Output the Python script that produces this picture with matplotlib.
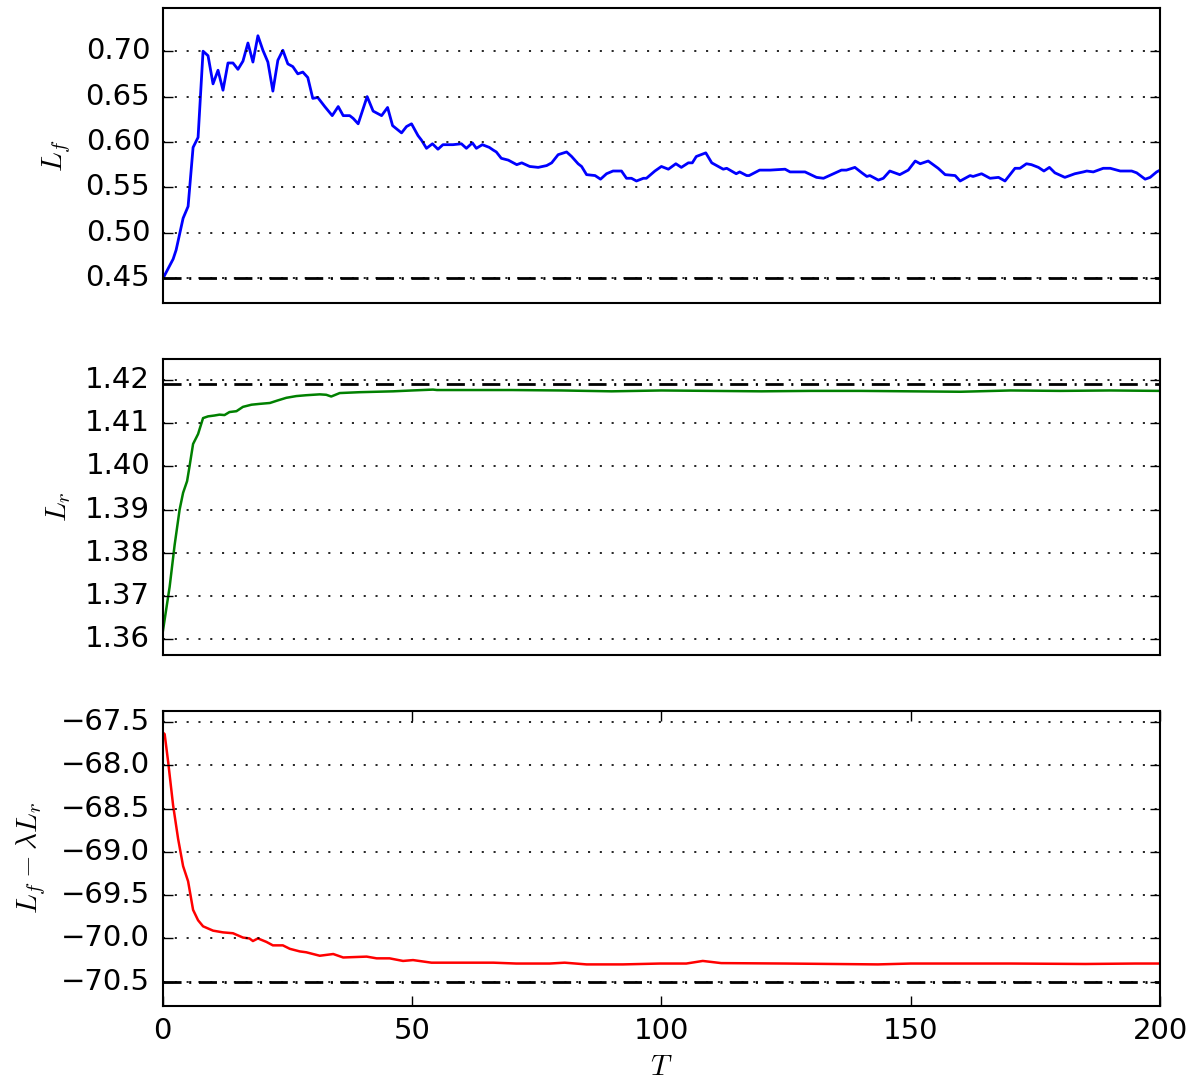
import matplotlib
matplotlib.use('Agg')
import matplotlib.pyplot as plt
from matplotlib.ticker import FuncFormatter

plt.style.use('classic')

# L_f curve (blue)
t_f = [0, 2.1, 2.7, 4.1, 5.1, 6.1, 7.1, 8.1, 9.1, 10.1, 11.1, 12.1, 13.1, 14.1, 15.1, 16.1,
       17.1, 18.1, 19.1, 20.1, 21.1, 22.1, 23.1, 24.1, 25.1, 26.1, 27.1, 28.1, 29.1, 30.1,
       31.1, 32.5, 34.0, 35.2, 36.2, 37.5, 38.2, 39.2, 41.0, 42.2, 43.9, 45.1, 46.1, 47.9,
       48.9, 49.9, 51.2, 51.9, 52.9, 54.1, 55.2, 56.2, 58.2, 59.9, 60.9, 62.1, 62.9, 64.1,
       65.5, 66.3, 66.9, 67.9, 69.3, 71.0, 72.0, 73.6, 75.3, 77.0, 78.0, 79.3, 81.0, 82.0,
       83.3, 84.0, 85.0, 86.7, 87.8, 89.0, 90.3, 92.0, 93.0, 94.0, 95.0, 96.4, 97.0, 98.7,
       100.0, 101.4, 102.9, 104.0, 105.4, 106.2, 107.0, 108.9, 110.1, 111.1, 112.4, 113.1,
       115.0, 115.7, 117.1, 117.6, 119.7, 121.8, 124.8, 125.8, 128.8, 131.1, 132.5, 134.5,
       136.1, 137.1, 138.8, 140.2, 141.2, 141.8, 143.5, 144.5, 145.8, 147.8, 149.5, 150.9,
       151.9, 153.5, 155.5, 156.9, 158.9, 159.9, 161.9, 162.5, 164.2, 165.9, 167.6, 168.9,
       170.9, 171.9, 173.2, 174.2, 175.6, 176.7, 177.8, 178.9, 180.9, 182.9, 184.6, 185.3,
       186.6, 188.6, 190.0, 192.0, 194.3, 195.3, 197.0, 198.0, 199.3, 200]
l_f = [0.449, 0.471, 0.481, 0.516, 0.529, 0.594, 0.605, 0.700, 0.695, 0.664, 0.679, 0.657,
       0.687, 0.687, 0.680, 0.689, 0.709, 0.688, 0.717, 0.701, 0.688, 0.656, 0.690, 0.701,
       0.686, 0.683, 0.675, 0.677, 0.671, 0.648, 0.649, 0.639, 0.629, 0.639, 0.629, 0.629,
       0.626, 0.620, 0.650, 0.634, 0.629, 0.638, 0.618, 0.610, 0.617, 0.620, 0.607, 0.602,
       0.593, 0.598, 0.592, 0.597, 0.597, 0.598, 0.593, 0.599, 0.593, 0.597, 0.594, 0.591,
       0.589, 0.582, 0.580, 0.575, 0.577, 0.573, 0.572, 0.574, 0.577, 0.586, 0.589, 0.584,
       0.576, 0.573, 0.564, 0.563, 0.559, 0.565, 0.568, 0.568, 0.560, 0.560, 0.557, 0.560,
       0.560, 0.568, 0.573, 0.570, 0.576, 0.572, 0.577, 0.577, 0.584, 0.588, 0.577, 0.574,
       0.570, 0.571, 0.565, 0.567, 0.563, 0.563, 0.569, 0.569, 0.570, 0.567, 0.567, 0.561,
       0.560, 0.565, 0.569, 0.569, 0.572, 0.566, 0.562, 0.563, 0.558, 0.560, 0.568, 0.564,
       0.569, 0.579, 0.576, 0.579, 0.571, 0.564, 0.563, 0.557, 0.563, 0.562, 0.565, 0.560,
       0.561, 0.557, 0.571, 0.571, 0.576, 0.575, 0.572, 0.568, 0.572, 0.566, 0.561, 0.565,
       0.567, 0.568, 0.567, 0.571, 0.571, 0.568, 0.568, 0.566, 0.559, 0.561, 0.567, 0.569]

# L_r curve (green)
t_r = [0, 1.4, 2.4, 3.4, 4.1, 4.9, 5.4, 6.1, 7.1, 8.1, 9.1, 10.4, 11.4, 12.4, 13.4, 14.8,
       16.1, 17.8, 19.5, 21.5, 23.1, 24.8, 26.8, 28.8, 31.5, 32.8, 33.8, 35.5, 39.5, 46.2,
       50, 54.2, 55, 70, 80, 90, 100, 110, 120, 130, 140, 150, 160, 170, 180, 190, 200]
l_r = [1.3615, 1.3721, 1.3818, 1.3900, 1.3939, 1.3966, 1.4001, 1.4052, 1.4075, 1.4112,
       1.4116, 1.4118, 1.4120, 1.4119, 1.4126, 1.4128, 1.4138, 1.4143, 1.4145, 1.4147,
       1.4153, 1.4159, 1.4163, 1.4165, 1.4167, 1.4166, 1.4162, 1.4170, 1.4172, 1.4174,
       1.4176, 1.4178, 1.4177, 1.4177, 1.4176, 1.4174, 1.4176, 1.4175, 1.4174, 1.4175,
       1.4175, 1.4174, 1.4173, 1.4176, 1.4175, 1.4176, 1.4175]

# L_f - lambda L_r curve (red)
t_c = [0, 0.4, 1.1, 2.1, 3.1, 4.1, 5.1, 6.1, 7.1, 8.1, 10.1, 12.1, 14.1, 16.1, 17.4, 18.1,
       19.1, 20.8, 22.1, 24.1, 25.5, 27.5, 28.8, 31.5, 34.2, 36.2, 40.9, 42.9, 45.5, 48.2,
       50.2, 53.9, 59.6, 66.3, 70.9, 77.6, 80.6, 85.0, 92.3, 99.7, 105, 108.3, 112, 125,
       143.4, 150, 170, 185, 195, 200]
l_c = [-67.62, -67.64, -67.96, -68.465, -68.85, -69.165, -69.34, -69.67, -69.79, -69.86,
       -69.91, -69.93, -69.94, -69.99, -70.00, -70.03, -70.00, -70.04, -70.08, -70.08,
       -70.12, -70.15, -70.16, -70.20, -70.18, -70.22, -70.21, -70.23, -70.23, -70.26,
       -70.25, -70.28, -70.28, -70.28, -70.29, -70.29, -70.28, -70.30, -70.30, -70.29,
       -70.29, -70.26, -70.285, -70.29, -70.30, -70.29, -70.29, -70.295, -70.29, -70.29]

# reference (optimal) levels
ref_f = 0.45
ref_r = 1.4191
ref_c = -70.5


def make_fmt(fmt):
    # fixed decimals, with a proper minus sign
    return FuncFormatter(lambda v, pos: (fmt % v).replace('-', '\u2212'))


fig, axes = plt.subplots(3, 1, figsize=(11.96, 10.88), dpi=100)
fig.subplots_adjust(left=0.136, right=0.970, top=0.9926, bottom=0.0754, hspace=0.19)

panels = [
    (t_f, l_f, ref_f, 'b', 2.0, r'$L_f$', (0.4223, 0.7475),
     [0.45, 0.50, 0.55, 0.60, 0.65, 0.70], '%.2f'),
    (t_r, l_r, ref_r, 'g', 1.8, r'$L_r$', (1.3564, 1.4248),
     [1.36, 1.37, 1.38, 1.39, 1.40, 1.41, 1.42], '%.2f'),
    (t_c, l_c, ref_c, 'r', 1.8, r'$L_f - \lambda L_r$', (-70.78, -67.37),
     [-70.5, -70.0, -69.5, -69.0, -68.5, -68.0, -67.5], '%.1f'),
]

for i, (t, y, ref, col, lw, lab, lims, yt, fmt) in enumerate(panels):
    ax = axes[i]
    ax.plot(t, y, color=col, lw=lw)
    ax.axhline(ref, color='k', lw=2, dashes=(13, 5.5, 1.5, 5.5))
    ax.set_xlim(0, 200)
    ax.set_ylim(*lims)
    ax.set_yticks(yt)
    ax.yaxis.set_major_formatter(make_fmt(fmt))
    ax.yaxis.grid(True, color='k', linestyle=(0, (1.5, 7)), lw=1.2)
    ax.xaxis.grid(False)
    ax.set_ylabel(lab, fontsize=21, labelpad=9)
    ax.tick_params(labelsize=21, length=7, width=1, direction='in')
    ax.tick_params(axis='y', pad=9)
    for s in ax.spines.values():
        s.set_linewidth(1.5)
    if i < 2:
        ax.set_xticks([])
    else:
        ax.set_xticks([0, 50, 100, 150, 200])
        ax.tick_params(axis='x', pad=8)
        ax.set_xlabel(r'$T$', fontsize=21, labelpad=6)

plt.savefig('out.png', dpi=100)
